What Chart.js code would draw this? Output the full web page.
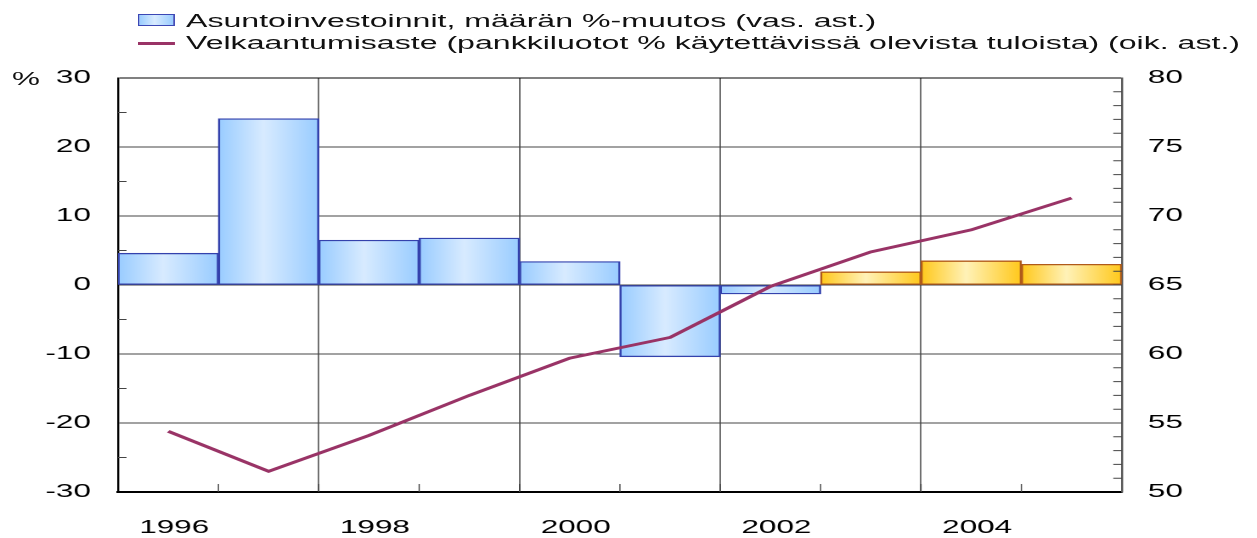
<!DOCTYPE html>
<html>
<head>
<meta charset="utf-8">
<script src="https://cdn.jsdelivr.net/npm/chart.js@4/dist/chart.umd.min.js"></script>
<style>
  html, body { margin: 0; padding: 0; background: #fff; overflow: hidden; }
  /* the original picture is stretched sideways, so the whole chart is drawn narrow and scaled */
  #wrap {
    position: relative; width: 740px; height: 538px;
    transform: scaleX(1.6986); transform-origin: 0 0;
    font-family: "Liberation Sans", Arial, sans-serif; color: #111;
  }
  #chart { position: absolute; left: 0; top: 0; }
  .label { position: absolute; left: 109.5px; height: 20px; line-height: 20px; font-size: 18.9px; white-space: nowrap; }
  .swatch { position: absolute; left: 81.4px; box-sizing: border-box; }
  .swatch.bar { top: 13.5px; width: 21.2px; height: 12.7px; border: 1px solid #3b47b5;
    background: linear-gradient(to right, #99ccff, #d8ebff 45%, #99ccff); }
  .swatch.line { top: 42px; width: 21.8px; height: 2.8px; background: #993366; }
  .unit { position: absolute; left: 7px; top: 69px; height: 20px; line-height: 20px; font-size: 18.5px; }
</style>
</head>
<body>
<div id="wrap">
  <canvas id="chart"></canvas>
  <div class="swatch bar"></div>
  <div class="label" style="top: 10.5px">Asuntoinvestoinnit, määrän %-muutos (vas. ast.)</div>
  <div class="swatch line"></div>
  <div class="label" style="top: 33.2px">Velkaantumisaste (pankkiluotot % käytettävissä olevista tuloista) (oik. ast.)</div>
  <div class="unit">%</div>
</div>
<script>
const years = ["1996", "1997", "1998", "1999", "2000", "2001", "2002", "2003", "2004", "2005"];
// housing investment, volume change %, left axis
const housingInvestment = [4.6, 24.1, 6.5, 6.8, 3.4, -10.4, -1.3, 1.9, 3.5, 3.0];
// indebtedness ratio, bank loans % of disposable income, right axis
const indebtedness = [54.4, 51.5, 54.1, 57.0, 59.7, 61.2, 64.9, 67.4, 69.0, 71.3];
// forecast years get the yellow bars
const forecast = [false, false, false, false, false, false, false, true, true, true];

const tickFont = { family: "Liberation Sans", size: 18.5 };

function barFill(ctx) {
  const chart = ctx.chart;
  const x = chart.scales.x;
  if (!chart.chartArea || !x) return "#99ccff";
  const c = x.getPixelForValue(ctx.dataIndex);
  const half = (x.getPixelForValue(1) - x.getPixelForValue(0)) / 2;
  const g = chart.ctx.createLinearGradient(c - half, 0, c + half, 0);
  if (forecast[ctx.dataIndex]) {
    g.addColorStop(0, "#ffc81a");
    g.addColorStop(0.45, "#fff2b8");
    g.addColorStop(1, "#ffc81a");
  } else {
    g.addColorStop(0, "#99ccff");
    g.addColorStop(0.45, "#d8ebff");
    g.addColorStop(1, "#99ccff");
  }
  return g;
}

// short ticks pointing into the plot area
const innerTicks = {
  id: "innerTicks",
  afterDatasetsDraw(chart) {
    const { ctx, chartArea: a, scales: { x, y, y1 } } = chart;
    ctx.save();
    ctx.strokeStyle = "#444";
    ctx.lineWidth = 1;
    ctx.beginPath();
    for (let v = -25; v < 30; v += 10) {
      const py = y.getPixelForValue(v);
      ctx.moveTo(a.left, py);
      ctx.lineTo(a.left + 5, py);
    }
    for (let v = 51; v < 80; v++) {
      const py = y1.getPixelForValue(v);
      ctx.moveTo(a.right - 5, py);
      ctx.lineTo(a.right, py);
    }
    ctx.stroke();
    ctx.lineWidth = 0.7;
    ctx.beginPath();
    for (let i = 1; i < years.length; i++) {
      const px = (x.getPixelForValue(i - 1) + x.getPixelForValue(i)) / 2;
      ctx.moveTo(px, a.bottom);
      ctx.lineTo(px, a.bottom - 8);
    }
    ctx.stroke();
    ctx.restore();
  }
};

const canvas = document.getElementById("chart");
canvas.width = 740;
canvas.height = 538;

new Chart(canvas, {
  type: "bar",
  data: {
    labels: years,
    datasets: [
      {
        type: "line",
        label: "Velkaantumisaste (pankkiluotot % käytettävissä olevista tuloista) (oik. ast.)",
        data: indebtedness,
        yAxisID: "y1",
        borderColor: "#993366",
        borderWidth: 2.8,
        pointRadius: 0,
        tension: 0,
        order: 1,
      },
      {
        type: "bar",
        label: "Asuntoinvestoinnit, määrän %-muutos (vas. ast.)",
        data: housingInvestment,
        yAxisID: "y",
        backgroundColor: barFill,
        borderColor: (ctx) => (forecast[ctx.dataIndex] ? "#b05a1a" : "#3442ad"),
        borderWidth: 1.3,
        borderSkipped: false,
        barPercentage: 1,
        categoryPercentage: 1,
        order: 2,
      },
    ],
  },
  options: {
    responsive: false,
    animation: false,
    devicePixelRatio: 2,
    layout: { padding: { top: 78, left: 0, right: 0, bottom: 0 } },
    plugins: {
      legend: { display: false },
      tooltip: { enabled: false },
    },
    scales: {
      x: {
        offset: true,
        grid: {
          offset: true,
          drawTicks: false,
          lineWidth: 0.7,
          color: (ctx) => (ctx.index > 0 && ctx.index < years.length && ctx.index % 2 === 0 ? "#333" : "rgba(0,0,0,0)"),
        },
        border: { color: "#000", width: 2 },
        ticks: {
          font: tickFont,
          color: "#000",
          padding: 25,
          labelOffset: 3.5,
          maxRotation: 0,
          autoSkip: false,
          callback: (v, i) => (i % 2 === 0 ? years[i] : ""),
        },
        afterFit: (s) => { s.height = 46; },
      },
      y: {
        position: "left",
        min: -30,
        max: 30,
        ticks: { stepSize: 10, padding: 16, font: tickFont, color: "#000" },
        grid: {
          drawTicks: false,
          color: (ctx) => (ctx.tick && ctx.tick.value === 30 ? "#000" : "#444"),
        },
        border: { color: "#000", width: 1.2 },
        afterFit: (s) => { s.width = 69.5; },
      },
      y1: {
        position: "right",
        min: 50,
        max: 80,
        ticks: { stepSize: 5, padding: 15.4, font: tickFont, color: "#000" },
        grid: { drawOnChartArea: false, drawTicks: false },
        border: { color: "#555", width: 1.2 },
        afterFit: (s) => { s.width = 79.6; },
      },
    },
  },
  plugins: [innerTicks],
});
</script>
</body>
</html>
